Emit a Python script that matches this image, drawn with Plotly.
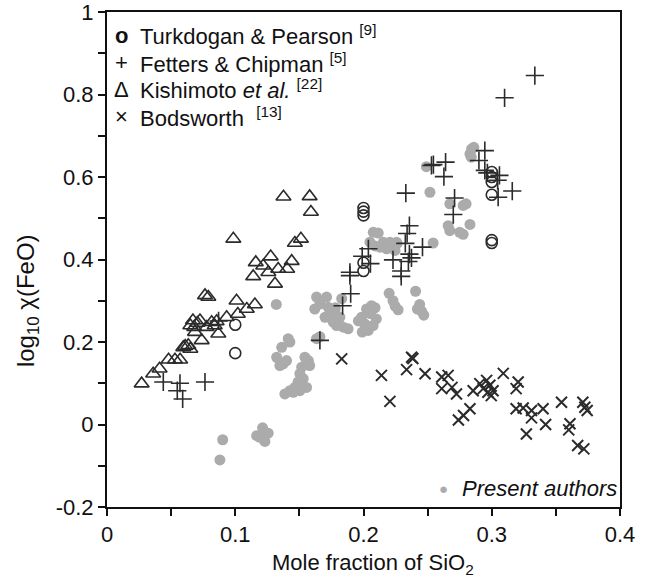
import plotly.graph_objects as go

# Turkdogan & Pearson
tp_x = [0.100, 0.100, 0.200, 0.200, 0.200, 0.200, 0.200, 0.300, 0.300, 0.300, 0.300, 0.300, 0.300]
tp_y = [0.242, 0.173, 0.525, 0.516, 0.507, 0.392, 0.372, 0.612, 0.600, 0.588, 0.557, 0.447, 0.440]

# Fetters & Chipman
fc_x = [0.0439, 0.0569, 0.0548, 0.0590, 0.0764, 0.087, 0.166, 0.1837, 0.190, 0.1894, 0.1894,
        0.199, 0.2054, 0.2038, 0.223, 0.2294, 0.2294, 0.2326, 0.2358, 0.2374, 0.235, 0.234,
        0.2358, 0.233, 0.246, 0.253, 0.2545, 0.264, 0.2627, 0.270, 0.271, 0.290, 0.2946,
        0.2946, 0.2966, 0.306, 0.3046, 0.305, 0.316, 0.310, 0.3336]
fc_y = [0.103, 0.100, 0.082, 0.062, 0.103, 0.251, 0.204, 0.288, 0.317, 0.369, 0.361,
        0.408, 0.390, 0.426, 0.399, 0.372, 0.359, 0.439, 0.413, 0.404, 0.395, 0.463,
        0.482, 0.561, 0.430, 0.628, 0.630, 0.636, 0.601, 0.509, 0.549, 0.640, 0.664,
        0.616, 0.610, 0.604, 0.592, 0.551, 0.566, 0.792, 0.846]

# Kishimoto et al.
ks_x = [0.027, 0.036, 0.041, 0.048, 0.053, 0.057, 0.0595, 0.0634, 0.065, 0.0738, 0.065,
        0.067, 0.0725, 0.0686, 0.0777, 0.0816, 0.0855, 0.0868, 0.0933, 0.0764, 0.079,
        0.101, 0.102, 0.109, 0.1153, 0.0985, 0.114, 0.116, 0.1218, 0.1276, 0.1258, 0.131,
        0.1335, 0.1405, 0.144, 0.1465, 0.1512, 0.1376, 0.158, 0.159, 0.068, 0.0705, 0.084,
        0.061]
ks_y = [0.099, 0.123, 0.135, 0.157, 0.157, 0.157, 0.187, 0.192, 0.183, 0.204, 0.240,
        0.252, 0.252, 0.224, 0.236, 0.248, 0.250, 0.220, 0.260, 0.313, 0.309,
        0.300, 0.268, 0.280, 0.291, 0.450, 0.359, 0.393, 0.385, 0.407, 0.369, 0.341,
        0.377, 0.377, 0.396, 0.440, 0.450, 0.552, 0.553, 0.515, 0.236, 0.246, 0.240,
        0.190]

# Bodsworth
bw_x = [0.183, 0.2375, 0.2385, 0.214, 0.2206, 0.2336, 0.248, 0.261, 0.266, 0.261, 0.269,
        0.2725, 0.283, 0.278, 0.274, 0.2855, 0.2907, 0.296, 0.2985, 0.301, 0.297, 0.2996,
        0.2933, 0.309, 0.3206, 0.319, 0.319, 0.3245, 0.331, 0.331, 0.340, 0.3544, 0.327,
        0.342, 0.361, 0.360, 0.371, 0.3726, 0.3744, 0.367, 0.3718]
bw_y = [0.159, 0.163, 0.160, 0.119, 0.056, 0.133, 0.123, 0.115, 0.119, 0.087, 0.090,
        0.074, 0.038, 0.022, 0.011, 0.082, 0.099, 0.107, 0.095, 0.082, 0.078, 0.070,
        0.087, 0.124, 0.103, 0.087, 0.038, 0.040, 0.034, 0.016, 0.038, 0.054, -0.023,
        0.000, 0.002, -0.013, 0.054, 0.042, 0.034, -0.051, -0.059]

# Present authors
pa_x = [0.0902, 0.088, 0.1167, 0.1213, 0.1257, 0.1231, 0.1193, 0.122,
        0.132,
        0.1413, 0.1426, 0.1362, 0.1323, 0.1348, 0.1374, 0.140,
        0.1543, 0.157, 0.158, 0.1518, 0.1504, 0.153, 0.149, 0.1465, 0.1426, 0.1387, 0.1452,
        0.1504, 0.1556,
        0.1634, 0.166,
        0.1634, 0.1712, 0.166, 0.162, 0.1725, 0.1777, 0.1816, 0.1764, 0.179, 0.1842, 0.188,
        0.170, 0.175, 0.183, 0.178,
        0.1985, 0.2024, 0.2063, 0.201, 0.2037, 0.2075, 0.210, 0.2054, 0.209, 0.199, 0.196,
        0.220, 0.223, 0.2246, 0.227, 0.2406, 0.2438, 0.2454, 0.247, 0.242,
        0.2076, 0.2115, 0.205, 0.2155, 0.2206, 0.2258, 0.223, 0.218, 0.2128, 0.2246, 0.2262,
        0.209,
        0.249, 0.2518, 0.2543,
        0.2673, 0.2777, 0.280, 0.266, 0.2673, 0.275, 0.2777, 0.283,
        0.2843, 0.283, 0.286, 0.284]
pa_y = [-0.037, -0.086, -0.027, -0.008, -0.021, -0.041, -0.031, -0.020,
        0.291,
        0.208, 0.200, 0.187, 0.163, 0.143, 0.147, 0.155,
        0.163, 0.155, 0.143, 0.139, 0.123, 0.111, 0.103, 0.090, 0.082, 0.074, 0.078,
        0.082, 0.090,
        0.208, 0.213,
        0.309, 0.309, 0.292, 0.280, 0.284, 0.276, 0.260, 0.248, 0.240, 0.236, 0.232,
        0.260, 0.264, 0.305, 0.283,
        0.260, 0.280, 0.288, 0.244, 0.228, 0.240, 0.256, 0.269, 0.283, 0.224, 0.251,
        0.318, 0.300, 0.287, 0.278, 0.323, 0.291, 0.274, 0.265, 0.280,
        0.466, 0.464, 0.442, 0.442, 0.442, 0.442, 0.430, 0.426, 0.430, 0.422, 0.439,
        0.433,
        0.625, 0.563, 0.440,
        0.535, 0.531, 0.535, 0.482, 0.470, 0.466, 0.461, 0.485,
        0.668, 0.656, 0.672, 0.648]

x_ticks = [0, 0.1, 0.2, 0.3, 0.4]
x_labels = ["0", "0.1", "0.2", "0.3", "0.4"]
y_ticks = [-0.2, 0, 0.2, 0.4, 0.6, 0.8, 1.0]
y_labels = ["-0.2", "0", "0.2", "0.4", "0.6", "0.8", "1"]

# Key entries: glyph shown in the key, label text
key_glyphs = ["<b>o</b>", "+", "Δ", "×"]
key_labels = ["Turkdogan &amp; Pearson <sup>[9]</sup>",
              "Fetters &amp; Chipman <sup>[5]</sup>",
              "Kishimoto <i>et al.</i> <sup>[22]</sup>",
              "Bodsworth  <sup>[13]</sup>"]

FONT = "Liberation Sans, Arial, sans-serif"
INK = "#2b2b2b"
GREY = "#ababab"

fig = go.Figure()

fig.add_trace(go.Scatter(
    x=pa_x, y=pa_y, mode="markers", name="Present authors",
    marker=dict(symbol="circle", size=11, color=GREY, line=dict(width=0)),
))
fig.add_trace(go.Scatter(
    x=tp_x, y=tp_y, mode="markers", name="Turkdogan & Pearson",
    marker=dict(symbol="circle-open", size=11, color=INK, line=dict(width=1.6, color=INK)),
))
fig.add_trace(go.Scatter(
    x=fc_x, y=fc_y, mode="markers", name="Fetters & Chipman",
    marker=dict(symbol="cross-thin-open", size=13, color=INK, line=dict(width=1.6, color=INK)),
))
fig.add_trace(go.Scatter(
    x=ks_x, y=ks_y, mode="markers", name="Kishimoto et al.",
    marker=dict(symbol="triangle-up-open", size=13, color=INK, line=dict(width=1.6, color=INK)),
))
fig.add_trace(go.Scatter(
    x=bw_x, y=bw_y, mode="markers", name="Bodsworth",
    marker=dict(symbol="x-thin-open", size=11, color=INK, line=dict(width=2, color=INK)),
))

axis_common = dict(
    showline=True, linecolor="#111", linewidth=2, mirror=True,
    ticks="outside", ticklen=7, tickwidth=1.6, tickcolor="#111",
    showgrid=False, zeroline=False, automargin=False, ticklabeloverflow="allow",
    tickfont=dict(family=FONT, size=22, color="#111"),
)

fig.update_xaxes(
    range=[0, 0.4], tickmode="array", tickvals=x_ticks, ticktext=x_labels,
    minor=dict(dtick=0.05, tick0=0, ticks="outside", ticklen=7, tickwidth=1.6, tickcolor="#111"),
    **axis_common,
)
fig.update_yaxes(
    range=[-0.2, 1.0], tickmode="array", tickvals=y_ticks, ticktext=y_labels,
    minor=dict(dtick=0.1, tick0=0, ticks="outside", ticklen=7, tickwidth=1.6, tickcolor="#111"),
    **axis_common,
)

# Key in the upper-left corner (glyph + label per row)
row_y = [0.9535, 0.897, 0.8444, 0.7879]
annotations = []
for glyph, label, yy in zip(key_glyphs, key_labels, row_y):
    annotations.append(dict(
        x=0.0273, y=yy, xref="paper", yref="paper", text=glyph, showarrow=False,
        xanchor="center", yanchor="middle", font=dict(family=FONT, size=22, color="#111"),
    ))
    annotations.append(dict(
        x=0.0605, y=yy, xref="paper", yref="paper", text=label, showarrow=False,
        xanchor="left", yanchor="middle", font=dict(family=FONT, size=22, color="#111"),
    ))

# Key entry for the present data, lower right
annotations.append(dict(
    x=0.655, y=0.0364, xref="paper", yref="paper", text="●", showarrow=False,
    xanchor="center", yanchor="middle", font=dict(family=FONT, size=15, color=GREY),
))
annotations.append(dict(
    x=0.6886, y=0.0364, xref="paper", yref="paper", text="<i>Present authors</i>",
    showarrow=False, xanchor="left", yanchor="middle",
    font=dict(family=FONT, size=22, color="#111"),
))

# Axis titles
annotations.append(dict(
    x=0.5185, y=-0.115, xref="paper", yref="paper", text="Mole fraction of SiO<sub>2</sub>",
    showarrow=False, xanchor="center", yanchor="middle",
    font=dict(family=FONT, size=22, color="#111"),
))
annotations.append(dict(
    x=-0.156, y=0.418, xref="paper", yref="paper", text="log<sub>10</sub> χ(FeO)",
    showarrow=False, xanchor="center", yanchor="middle", textangle=-90,
    font=dict(family=FONT, size=24, color="#111"),
))

fig.update_layout(
    width=646, height=578,
    margin=dict(l=107, r=26, t=12, b=71),
    paper_bgcolor="white", plot_bgcolor="white",
    font=dict(family=FONT, color="#111"),
    showlegend=False,
    annotations=annotations,
)

fig.write_html("out.html")
